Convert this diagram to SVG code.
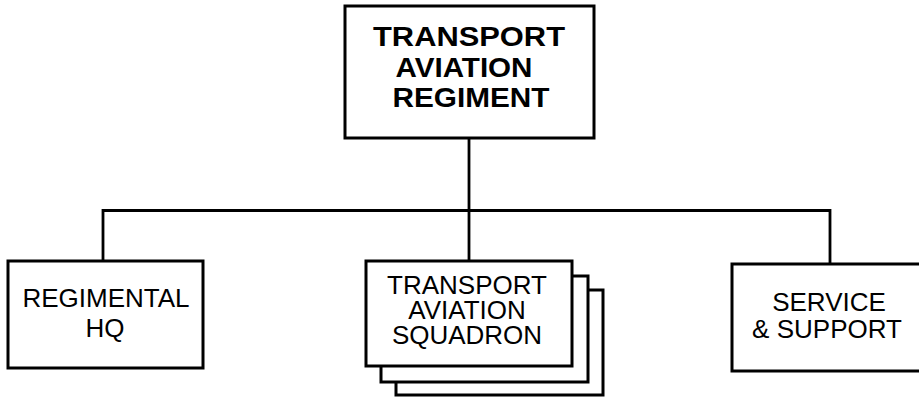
<svg xmlns="http://www.w3.org/2000/svg" width="919" height="397" viewBox="0 0 919 397">
<style>
.box{fill:#fff;stroke:#000;stroke-width:3}
.ln{fill:none;stroke:#000;stroke-width:2.8}
.t{font-family:"Liberation Sans",Arial,sans-serif;font-size:26px;fill:#000;text-anchor:middle}
.b{font-weight:bold;font-size:27px}
</style>
<rect width="919" height="397" fill="#fff"/>
<g id="connectors">
<path class="ln" d="M469 138 V261"/>
<path class="ln" d="M103 261 V210.5 H830 V264"/>
</g>
<g id="regiment">
<rect class="box" x="345" y="6" width="249" height="132"/>
<text class="t b" x="469" y="46" textLength="192" lengthAdjust="spacingAndGlyphs">TRANSPORT</text>
<text class="t b" x="464" y="77" textLength="137" lengthAdjust="spacingAndGlyphs">AVIATION</text>
<text class="t b" x="471" y="107" textLength="157" lengthAdjust="spacingAndGlyphs">REGIMENT</text>
</g>
<g id="hq">
<rect class="box" x="8" y="261" width="195" height="107"/>
<text class="t" x="106" y="306.5">REGIMENTAL</text>
<text class="t" x="105" y="336.5">HQ</text>
</g>
<g id="squadron">
<rect class="box" x="396" y="290" width="207" height="105"/>
<rect class="box" x="381" y="276" width="207" height="106"/>
<rect class="box" x="366" y="261" width="206" height="105"/>
<text class="t" x="467" y="294">TRANSPORT</text>
<text class="t" x="467" y="319">AVIATION</text>
<text class="t" x="467" y="343.5">SQUADRON</text>
</g>
<g id="support">
<rect class="box" x="732" y="264" width="195" height="107"/>
<text class="t" x="829" y="311">SERVICE</text>
<text class="t" x="827" y="338">&amp; SUPPORT</text>
</g>
</svg>
